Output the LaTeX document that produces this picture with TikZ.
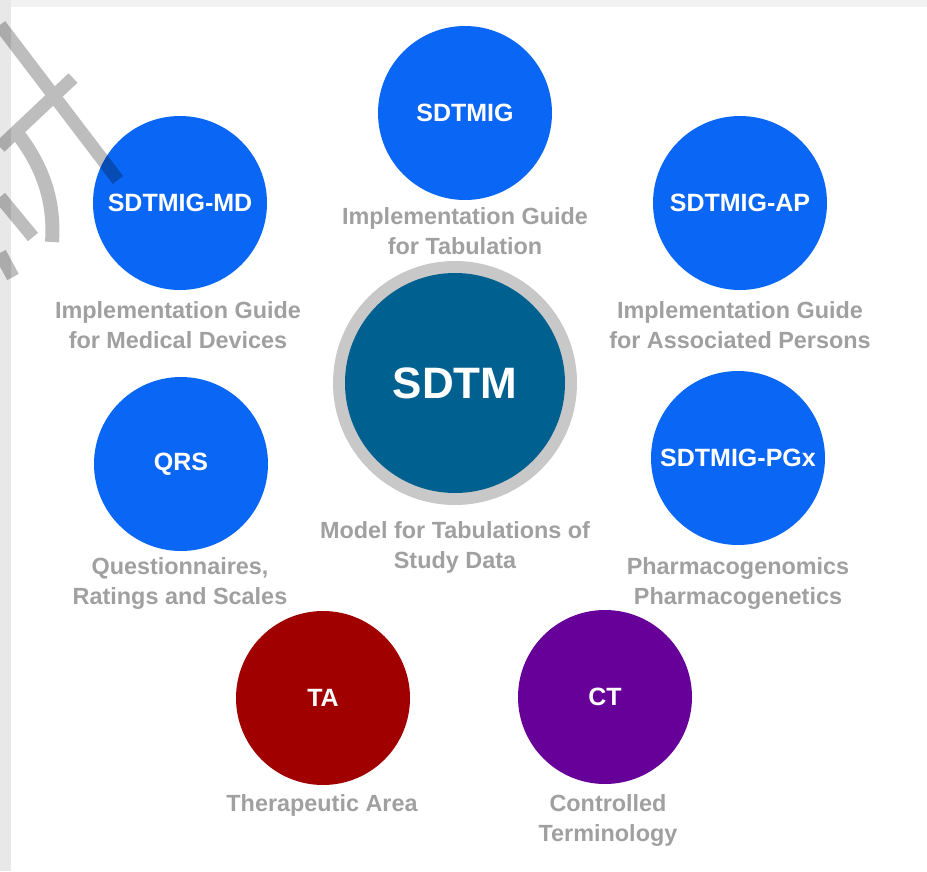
\documentclass[tikz,border=0pt]{standalone}
\usepackage{fontspec}
\setmainfont{Liberation Sans}
\definecolor{bub}{RGB}{10,102,245}
\definecolor{core}{RGB}{0,96,143}
\definecolor{ring}{RGB}{200,200,200}
\definecolor{taRed}{RGB}{160,0,0}
\definecolor{ctPur}{RGB}{102,0,153}
\definecolor{lbl}{RGB}{160,160,160}
\tikzset{
  bubble/.style={circle, fill=#1, minimum size=174pt, inner sep=0pt, text=white, font=\bfseries\fontsize{25}{28}\selectfont},
  caption/.style={text=lbl, align=center, inner sep=0pt, font=\bfseries\fontsize{23.4}{30}\selectfont}
}
\begin{document}
\begin{tikzpicture}[x=1pt,y=-1pt]
\useasboundingbox (0,0) rectangle (927,871);
\fill[white] (0,0) rectangle (927,871);
\fill[black!5] (0,0) rectangle (927,7);
\fill[black!9] (0,0) rectangle (11,871);

% central model
\node[circle, fill=ring, minimum size=244pt, inner sep=0pt] (ringc) at (455,383) {};
\node[circle, fill=core, minimum size=220pt, inner sep=0pt, text=white, font=\bfseries\fontsize{44}{48}\selectfont] (sdtm) at (455,383) {SDTM};
\node[caption] (sdtmL) at (455,547) {Model for Tabulations of\\Study Data};

% satellites
\node[bubble=bub] (ig) at (465,113) {SDTMIG};
\node[caption] (igL) at (465,231) {Implementation Guide\\for Tabulation};

\node[bubble=bub] (md) at (180,203) {SDTMIG-MD};
\node[caption] (mdL) at (178,325) {Implementation Guide\\for Medical Devices};

\node[bubble=bub] (ap) at (740,203) {SDTMIG-AP};
\node[caption] (apL) at (740,325) {Implementation Guide\\for Associated Persons};

\node[bubble=bub] (qrs) at (181,464) {QRS};
\node[caption] (qrsL) at (180,583) {Questionnaires,\\Ratings and Scales};

\node[bubble=bub] (pgx) at (738,458) {SDTMIG-PGx};
\node[caption] (pgxL) at (738,583) {Pharmacogenomics\\Pharmacogenetics};

\node[bubble=taRed] (ta) at (323,698) {TA};
\node[caption] (taL) at (322,805) {Therapeutic Area};

\node[bubble=ctPur] (ct) at (605,697) {CT};
\node[caption] (ctL) at (608,820) {Controlled\\Terminology};

% watermark fragment
\begin{scope}[transparency group, opacity=0.26]
\draw[line width=13pt, black] (0,25) -- (118,180);
\draw[line width=13pt, black] (73,78) -- (0,147);
\draw[line width=14pt, black] (17,133) .. controls (42,165) and (55,200) .. (52,242);
\draw[line width=13pt, black] (0,197) -- (33,237);
\draw[line width=13pt, black] (0,253) -- (13,277);
\end{scope}
\end{tikzpicture}
\end{document}
